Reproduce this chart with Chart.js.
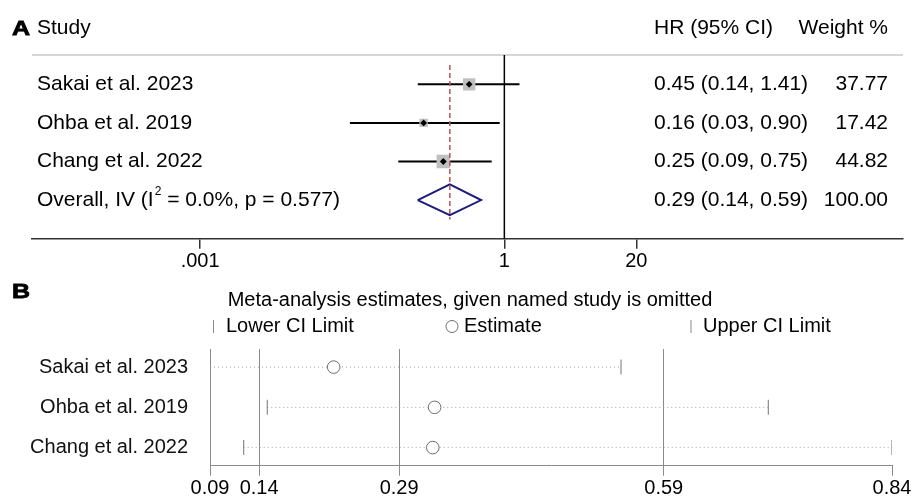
<!DOCTYPE html>
<html>
<head>
<meta charset="utf-8">
<script src="https://cdn.jsdelivr.net/npm/chart.js"></script>
<style>
body { margin: 0; background: #fff; }
#forestChart { position: absolute; left: 0; top: 0; }
#influenceChart { position: absolute; left: 0; top: 280px; }
</style>
</head>
<body>
<canvas id="forestChart" width="918" height="280"></canvas>
<canvas id="influenceChart" width="918" height="218"></canvas>
<script>
// panel A - forest plot
const studies = ['Sakai et al. 2023', 'Ohba et al. 2019', 'Chang et al. 2022'];
const hr = [0.45, 0.16, 0.25];
const hrLow = [0.14, 0.03, 0.09];
const hrHigh = [1.41, 0.90, 0.75];
const weights = [37.77, 17.42, 44.82];
const overallHr = 0.29;
const overallLow = 0.14;
const overallHigh = 0.59;
const overallWeight = '100.00';
const i2 = '0.0';
const pHet = '0.577';
const forestTicks = [0.001, 1, 20];
const forestTickLabels = ['.001', '1', '20'];

// panel B - leave-one-out estimates
const omitEst = [0.223, 0.334, 0.332];
const omitLow = [0.087, 0.150, 0.124];
const omitHigh = [0.539, 0.701, 0.837];
const infTicks = [0.087, 0.141, 0.295, 0.586, 0.837];
const infTickLabels = ['0.09', '0.14', '0.29', '0.59', '0.84'];

const FONT = '"Liberation Sans", Arial, sans-serif';
const fmt = v => v.toFixed(2);

// bold panel letter, a bit wider than the normal face
function panelLetter(ctx, letter, x, y) {
    ctx.save();
    ctx.translate(x, y);
    ctx.scale(1.25, 1);
    ctx.font = 'bold 20px ' + FONT;
    ctx.textBaseline = 'middle';
    ctx.textAlign = 'left';
    ctx.fillStyle = '#000';
    ctx.strokeStyle = '#000';
    ctx.lineWidth = 0.8;
    ctx.fillText(letter, 0, 0);
    ctx.strokeText(letter, 0, 0);
    ctx.restore();
}

// ---------- panel A ----------
const overallRow = studies.length + 1;
const ciSets = studies.map((s, i) => ({
    data: [{x: hrLow[i], y: i + 1}, {x: hrHigh[i], y: i + 1}],
    showLine: true, borderColor: '#000', borderWidth: 2, pointRadius: 0, order: 3
}));

const forestText = {
    id: 'forestText',
    beforeDatasetsDraw(chart) {
        const {ctx, chartArea, scales: {y}} = chart;
        const ly = y.getPixelForValue(0.24);
        ctx.save();
        ctx.strokeStyle = '#c8c8c8';
        ctx.lineWidth = 1.5;
        ctx.beginPath();
        ctx.moveTo(chartArea.left, ly);
        ctx.lineTo(chartArea.right, ly);
        ctx.stroke();
        ctx.restore();
    },
    afterDraw(chart) {
        const {ctx, scales: {y}} = chart;
        const main = '21px ' + FONT;
        panelLetter(ctx, 'A', 12, 29);
        ctx.save();
        ctx.fillStyle = '#000';
        ctx.textBaseline = 'middle';
        ctx.font = main;
        ctx.fillText('Study', 37, 28);
        ctx.fillText('HR (95% CI)', 654, 28);
        ctx.textAlign = 'right';
        ctx.fillText('Weight %', 888, 28);
        studies.forEach((s, i) => {
            const py = y.getPixelForValue(i + 1);
            ctx.textAlign = 'left';
            ctx.fillText(s, 37, py);
            ctx.fillText(`${fmt(hr[i])} (${fmt(hrLow[i])}, ${fmt(hrHigh[i])})`, 654, py);
            ctx.textAlign = 'right';
            ctx.fillText(fmt(weights[i]), 888, py);
        });
        const oy = y.getPixelForValue(overallRow);
        ctx.textAlign = 'left';
        let x = 37;
        const part1 = 'Overall, IV (I';
        ctx.fillText(part1, x, oy);
        x += ctx.measureText(part1).width;
        ctx.font = '12px ' + FONT;
        ctx.fillText('2', x + 1, oy - 8);
        x += ctx.measureText('2').width + 1;
        ctx.font = main;
        ctx.fillText(` = ${i2}%, p = ${pHet})`, x, oy);
        ctx.fillText(`${fmt(overallHr)} (${fmt(overallLow)}, ${fmt(overallHigh)})`, 654, oy);
        ctx.textAlign = 'right';
        ctx.fillText(overallWeight, 888, oy);
        ctx.restore();
    }
};

new Chart(document.getElementById('forestChart').getContext('2d'), {
    type: 'scatter',
    data: {
        datasets: [
            ...ciSets,
            {
                data: studies.map((s, i) => ({x: hr[i], y: i + 1})),
                pointStyle: 'rect',
                pointRadius: weights.map(w => Math.sqrt(w) * 1.42),
                backgroundColor: '#c0c0c0', borderWidth: 0, order: 2
            },
            {
                data: studies.map((s, i) => ({x: hr[i], y: i + 1})),
                pointStyle: 'rectRot', pointRadius: 3.4,
                backgroundColor: '#000', borderWidth: 0, order: 1
            },
            {
                data: [
                    {x: overallLow, y: overallRow}, {x: overallHr, y: overallRow - 0.41},
                    {x: overallHigh, y: overallRow}, {x: overallHr, y: overallRow + 0.39},
                    {x: overallLow, y: overallRow}
                ],
                showLine: true, borderColor: '#1c1c7c', borderWidth: 2, pointRadius: 0, order: 2
            },
            {
                data: [{x: overallHr, y: 0.5}, {x: overallHr, y: 4.5}],
                showLine: true, borderColor: '#b5535b', borderWidth: 1.5, borderDash: [5, 3],
                pointRadius: 0, order: 1
            },
            {
                data: [{x: 1, y: 0.24}, {x: 1, y: 5}],
                showLine: true, borderColor: '#000', borderWidth: 1.5, pointRadius: 0, order: 4
            }
        ]
    },
    options: {
        responsive: false,
        animation: false,
        layout: { padding: {left: 32, right: 15, top: 45.7, bottom: 0} },
        plugins: { legend: {display: false}, tooltip: {enabled: false} },
        scales: {
            x: {
                type: 'logarithmic',
                min: 2.2e-5, max: 8530,
                afterBuildTicks: s => { s.ticks = forestTicks.map(v => ({value: v})); },
                afterFit: s => { s.height = 41.3; },
                ticks: {
                    callback: (v, i) => forestTickLabels[i],
                    font: {size: 20, family: FONT}, color: '#000', padding: 1,
                    maxRotation: 0, autoSkip: false
                },
                grid: { drawOnChartArea: false, drawTicks: true, tickLength: 10, color: '#333', lineWidth: 1.5 },
                border: { color: '#333', width: 1.5 }
            },
            y: { type: 'linear', min: 0, max: 5, reverse: true, display: false }
        }
    },
    plugins: [forestText]
});

// ---------- panel B ----------
const infText = {
    id: 'infText',
    afterDraw(chart) {
        const ctx = chart.ctx;
        panelLetter(ctx, 'B', 12, 12);
        ctx.save();
        ctx.fillStyle = '#000';
        ctx.textBaseline = 'middle';
        ctx.font = '20px ' + FONT;
        ctx.textAlign = 'center';
        ctx.fillText('Meta-analysis estimates, given named study is omitted', 470, 20);
        ctx.textAlign = 'left';
        ctx.fillText('Lower CI Limit', 226, 46);
        ctx.fillText('Estimate', 464, 46);
        ctx.fillText('Upper CI Limit', 703, 46);
        ctx.strokeStyle = '#8a8a8a';
        ctx.lineWidth = 1;
        ctx.beginPath();
        ctx.moveTo(213.5, 40); ctx.lineTo(213.5, 53);
        ctx.moveTo(691, 40); ctx.lineTo(691, 53);
        ctx.stroke();
        ctx.strokeStyle = '#6e6e6e';
        ctx.beginPath();
        ctx.arc(452, 46.5, 6, 0, Math.PI * 2);
        ctx.stroke();
        ctx.restore();
    }
};

const dotSets = studies.map((s, i) => ({
    data: [{x: omitLow[i], y: i + 1}, {x: omitHigh[i], y: i + 1}],
    showLine: true, borderColor: '#a0a0a0', borderWidth: 1, borderDash: [1, 3],
    pointRadius: 0, order: 3
}));
const limitStyle = {
    pointStyle: 'line', rotation: 90, pointRadius: 7.5,
    borderColor: '#8a8a8a', borderWidth: 1.2, order: 2
};

new Chart(document.getElementById('influenceChart').getContext('2d'), {
    type: 'scatter',
    data: {
        datasets: [
            ...dotSets,
            Object.assign({data: studies.map((s, i) => ({x: omitLow[i], y: i + 1}))}, limitStyle),
            Object.assign({data: studies.map((s, i) => ({x: omitHigh[i], y: i + 1}))}, limitStyle),
            {
                data: studies.map((s, i) => ({x: omitEst[i], y: i + 1})),
                pointStyle: 'circle', pointRadius: 6.3,
                borderColor: '#6e6e6e', backgroundColor: '#fff', borderWidth: 1, order: 1
            }
        ]
    },
    options: {
        responsive: false,
        animation: false,
        layout: { padding: {left: 0, right: 26, top: 69, bottom: 0} },
        plugins: { legend: {display: false}, tooltip: {enabled: false} },
        scales: {
            x: {
                type: 'linear',
                min: infTicks[0], max: infTicks[infTicks.length - 1],
                afterBuildTicks: s => { s.ticks = infTicks.map(v => ({value: v})); },
                afterFit: s => { s.height = 32.3; },
                ticks: {
                    callback: (v, i) => infTickLabels[i],
                    font: {size: 20, family: FONT}, color: '#000', padding: 1,
                    maxRotation: 0, autoSkip: false
                },
                grid: {
                    color: c => (c.index === 0 || c.index === infTicks.length - 1) ? 'rgba(0,0,0,0)' : '#8a8a8a',
                    tickColor: '#8a8a8a', tickLength: 10, lineWidth: 1
                },
                border: { color: '#8a8a8a', width: 1 }
            },
            y: {
                type: 'linear', min: 0.55, max: 3.45, reverse: true,
                afterBuildTicks: s => { s.ticks = studies.map((n, i) => ({value: i + 1})); },
                afterFit: s => { s.width = 210; },
                ticks: {
                    callback: (v, i) => studies[i],
                    font: {size: 20, family: FONT}, color: '#111', padding: 14
                },
                grid: { display: false },
                border: { display: true, color: '#8a8a8a', width: 1 }
            }
        }
    },
    plugins: [infText]
});
</script>
</body>
</html>
